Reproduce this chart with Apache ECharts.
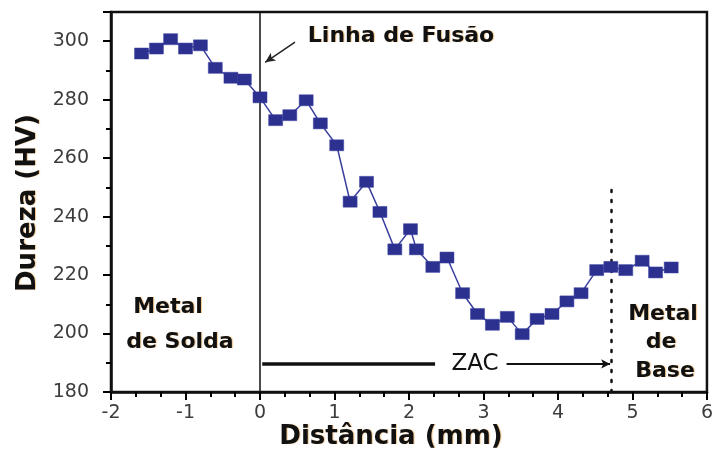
<!DOCTYPE html>
<html>
<head>
<meta charset="utf-8">
<script src="https://cdn.jsdelivr.net/npm/echarts@6/dist/echarts.min.js"></script>
<style>
  html, body { margin: 0; padding: 0; background: #fff; }
  #chart { width: 716px; height: 454px; }
</style>
</head>
<body>
<div id="chart"></div>
<script>
// distância (mm) e dureza (HV)
var distancia = [-1.59, -1.39, -1.2, -1.0, -0.8, -0.6, -0.39, -0.21, 0.0, 0.21, 0.4, 0.62, 0.81, 1.03,
  1.21, 1.43, 1.61, 1.81, 2.02, 2.1, 2.32, 2.51, 2.72, 2.92, 3.12, 3.32, 3.52, 3.72, 3.92,
  4.12, 4.31, 4.52, 4.71, 4.91, 5.13, 5.31, 5.52];
var dureza = [295.8, 297.5, 300.7, 297.5, 298.6, 290.9, 287.5, 286.9, 280.8, 273.0, 274.7, 279.8, 271.9, 264.4,
  245.1, 251.9, 241.6, 228.8, 235.7, 228.8, 222.8, 226.0, 213.8, 206.7, 203.0, 205.7, 199.8, 205.0, 206.7,
  211.0, 213.8, 221.7, 222.8, 221.7, 224.9, 220.9, 222.6];

var xLimites = [-2, 6];
var yLimites = [180, 310];
var linhaFusao = 0;      // posição da linha de fusão
var limiteZAC = 4.72;    // fim da ZAC (linha pontilhada)

var pontos = distancia.map(function (d, i) { return [d, dureza[i]]; });

var fonte = 'DejaVu Sans';
var halo = {
  textShadowColor: 'rgba(230,150,50,0.55)',
  textShadowBlur: 1,
  textShadowOffsetX: 1
};

var chart = echarts.init(document.getElementById('chart'), null, { renderer: 'canvas' });

function texto(txt, x, y, size, bold, rot) {
  var st = Object.assign({
    text: txt,
    fill: '#111',
    font: (bold ? 'bold ' : '') + size + 'px "' + fonte + '"',
    align: 'center',
    verticalAlign: 'middle'
  }, bold ? halo : {});
  return { type: 'text', x: x, y: y, rotation: rot || 0, style: st, z: 100, silent: true };
}

var linhaEixo = { onZero: false, lineStyle: { color: '#111', width: 2.5 } };
var marca = { color: '#000', width: 2 };

var option = {
  animation: false,
  grid: { left: 111, right: 6, top: 12, bottom: 62, show: true, borderColor: '#111', borderWidth: 2.5 },
  xAxis: {
    type: 'value',
    min: xLimites[0], max: xLimites[1], interval: 1,
    splitLine: { show: false },
    axisLine: linhaEixo,
    axisTick: { show: true, length: 8, lineStyle: marca },
    minorTick: { show: true, splitNumber: 3, length: 5, lineStyle: marca },
    axisLabel: { color: '#3c3c3c', fontFamily: fonte, fontSize: 19, margin: 12 }
  },
  yAxis: {
    type: 'value',
    min: yLimites[0], max: yLimites[1], interval: 20,
    splitLine: { show: false },
    axisLine: linhaEixo,
    axisTick: { show: true, length: 8, lineStyle: marca },
    minorTick: { show: true, splitNumber: 2, length: 5, lineStyle: marca },
    axisLabel: {
      color: '#3c3c3c', fontFamily: fonte, fontSize: 19, margin: 22,
      formatter: function (v) { return v > 300 ? '' : String(v); }
    }
  },
  graphic: [
    texto('Dureza (HV)', 28, 203, 26, true, Math.PI / 2),
    texto('Distância (mm)', 391, 437, 26, true),
    texto('Linha de Fusão', 401, 36, 22, true),
    texto('Metal', 168, 307, 22, true),
    texto('de Solda', 180, 342, 22, true),
    texto('Metal', 663, 314, 22, true),
    texto('de', 661, 342, 22, true),
    texto('Base', 665, 371, 22, true),
    texto('ZAC', 475, 364, 23, false)
  ],
  series: [
    {
      type: 'line',
      data: pontos,
      symbol: 'rect',
      symbolSize: [14, 11],
      itemStyle: { color: '#2c3190', borderColor: '#3a40a0', borderWidth: 0.5 },
      lineStyle: { color: '#3a3f9e', width: 1.5 },
      emphasis: { disabled: true },
      z: 5,
      markLine: {
        silent: true,
        label: { show: false },
        symbol: ['none', 'none'],
        emphasis: { disabled: true },
        data: [
          [
            { coord: [linhaFusao, yLimites[0]], lineStyle: { color: '#111', width: 1.5, type: 'solid' } },
            { coord: [linhaFusao, yLimites[1]] }
          ],
          [
            { coord: [limiteZAC, 180], lineStyle: { color: '#111', width: 2.5, type: [2, 8], cap: 'round' } },
            { coord: [limiteZAC, 251.5] }
          ],
          [
            { coord: [0.47, 299.7], lineStyle: { color: '#222', width: 1.5, type: 'solid' } },
            { coord: [0.07, 292.8], symbol: 'arrow', symbolSize: [7, 10] }
          ],
          [
            { coord: [0.03, 189.6], lineStyle: { color: '#111', width: 3.5, type: 'solid' } },
            { coord: [2.35, 189.6] }
          ],
          [
            { coord: [3.31, 189.6], lineStyle: { color: '#111', width: 2, type: 'solid' } },
            { coord: [limiteZAC - 0.02, 189.6], symbol: 'arrow', symbolSize: [7, 9] }
          ]
        ]
      }
    }
  ]
};

chart.setOption(option);
</script>
</body>
</html>
